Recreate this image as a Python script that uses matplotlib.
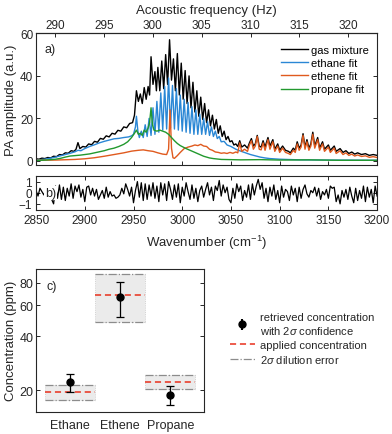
import numpy as np
import matplotlib
matplotlib.use("Agg")
import matplotlib.pyplot as plt
from matplotlib.lines import Line2D
from matplotlib.patches import Rectangle

plt.rcParams['font.family'] = ['Liberation Sans', 'DejaVu Sans']
plt.rcParams['mathtext.fontset'] = 'custom'
plt.rcParams['mathtext.rm'] = 'Liberation Sans'
plt.rcParams['mathtext.it'] = 'Liberation Sans:italic'

# ---- panel a: spectra (wavenumber cm-1, amplitude a.u.) ----
mix_wn = [2850, 2853, 2856, 2859, 2862, 2865, 2868, 2871, 2874, 2877, 2880, 2883, 2886, 2889, 2891, 2893, 2895,
          2898, 2901, 2904, 2907, 2910, 2913, 2916, 2919, 2922, 2925, 2928, 2931, 2934, 2937, 2940, 2943, 2946,
          2949, 2951, 2953, 2955, 2957, 2959, 2961, 2963, 2965, 2966.5, 2968, 2970, 2972, 2973.5, 2975, 2977,
          2979, 2981, 2983, 2985, 2987, 2989, 2991, 2993, 2995, 2997, 2999, 3001, 3003, 3005, 3007, 3009, 3011,
          3013, 3015, 3017, 3019, 3021, 3023, 3025, 3027, 3029, 3031, 3033, 3035, 3037, 3039, 3041, 3043, 3045,
          3047, 3049, 3051, 3053, 3055, 3057, 3059, 3061, 3064, 3067, 3069, 3071, 3073, 3075, 3077, 3079, 3081,
          3083, 3085, 3088, 3090, 3093, 3095, 3098, 3100, 3103, 3106, 3109, 3111, 3114, 3116, 3118, 3120, 3122,
          3124, 3126, 3128, 3130, 3132, 3134, 3136, 3139, 3141, 3144, 3146, 3150, 3152, 3156, 3158, 3162, 3165,
          3168, 3171, 3174, 3177, 3180, 3184, 3188, 3192, 3196, 3200]
mix_amp = [1.0, 0.8, 1.3, 1.1, 1.6, 1.4, 2.2, 2.0, 3.0, 2.8, 3.8, 3.6, 4.8, 4.5, 5.5, 8.6, 5.8,
           6.8, 6.5, 8.0, 7.6, 9.2, 8.8, 10.6, 10.2, 11.8, 11.3, 13.0, 12.6, 14.4, 14.0, 16.0, 15.6, 17.6,
           18.0, 21.5, 33.0, 28.0, 31.5, 27.0, 34.5, 29.0, 35.0, 31.0, 49.0, 36.0, 42.0, 33.0, 44.0, 33.0,
           47.0, 34.0, 50.0, 36.0, 57.0, 38.0, 48.0, 33.0, 50.5, 31.0, 46.0, 29.0, 42.5, 27.0, 40.0, 25.0, 37.0,
           23.0, 33.0, 21.0, 30.0, 19.5, 27.0, 18.0, 24.0, 16.5, 21.5, 15.0, 19.5, 13.0, 16.5, 11.5, 14.0, 10.0,
           11.5, 9.0, 9.5, 7.5, 8.0, 6.8, 9.5, 6.5, 7.5, 6.0, 8.5, 10.5, 7.0, 8.0, 12.0, 7.0, 6.5,
           9.5, 6.5, 11.0, 7.0, 10.0, 5.5, 8.0, 5.0, 7.0, 5.0, 4.5, 3.8, 6.0, 5.0, 9.0, 6.0, 7.5,
           12.8, 6.5, 10.0, 6.0, 8.0, 13.5, 7.0, 11.0, 6.0, 9.0, 5.5, 7.5, 5.0, 7.0, 4.5, 5.8, 4.0,
           4.8, 3.5, 4.2, 3.2, 3.8, 3.0, 3.4, 2.6, 3.0, 2.6]

ethane_wn = [2850, 2855, 2860, 2865, 2870, 2875, 2880, 2885, 2890, 2893, 2896, 2900, 2905, 2910, 2915, 2920,
             2925, 2930, 2935, 2940, 2945, 2948, 2950, 2952, 2953, 2954.5, 2956, 2958, 2960, 2962, 2964, 2966,
             2968, 2970, 2972, 2974, 2976, 2978, 2980, 2982, 2984, 2986, 2988, 2990, 2992, 2994, 2996, 2998,
             3000, 3002, 3004, 3006, 3008, 3010, 3012, 3014, 3016, 3018, 3020, 3022, 3024, 3026, 3028, 3030,
             3032, 3034, 3036, 3038, 3040, 3043, 3046, 3050, 3055, 3060, 3065, 3070, 3075, 3080, 3085, 3090,
             3100, 3120, 3150, 3200]
ethane_amp = [0.4, 0.6, 0.9, 1.3, 1.8, 2.4, 3.0, 3.6, 4.3, 5.0, 4.8, 5.8, 6.8, 7.6, 8.5, 9.2,
              9.8, 10.4, 10.6, 11.0, 11.3, 11.8, 12.5, 16.0, 21.0, 14.0, 11.0, 14.0, 11.0, 17.0, 11.5, 20.0,
              12.0, 25.0, 12.5, 28.0, 13.5, 32.0, 14.5, 35.0, 15.0, 39.0, 15.5, 35.5, 15.0, 34.0, 14.5, 31.0,
              14.0, 29.0, 13.5, 27.5, 13.0, 25.5, 12.5, 24.0, 12.5, 22.0, 12.5, 20.0, 12.5, 18.5, 12.0, 16.0,
              11.5, 14.0, 10.5, 11.5, 9.0, 9.2, 7.5, 6.8, 5.5, 4.6, 3.8, 3.0, 2.4, 1.8, 1.4, 1.1,
              0.8, 0.5, 0.4, 0.3]

ethene_wn = [2850, 2870, 2890, 2900, 2910, 2920, 2930, 2940, 2948, 2955, 2960, 2965, 2970, 2975, 2980, 2984,
             2986, 2987.5, 2989, 2990.5, 2992, 2995, 2998, 3002, 3006, 3010, 3013, 3016, 3019, 3022, 3025,
             3028, 3031, 3034, 3037, 3040, 3043, 3046, 3049, 3052, 3055, 3057, 3059, 3061, 3064, 3067, 3069,
             3071, 3073, 3075, 3077, 3079, 3081, 3083, 3085, 3088, 3090, 3093, 3095, 3098, 3100, 3103, 3106,
             3109, 3111, 3114, 3116, 3118, 3120, 3122, 3124, 3126, 3128, 3130, 3132, 3134, 3136, 3139, 3141,
             3144, 3146, 3150, 3152, 3156, 3158, 3162, 3165, 3168, 3171, 3174, 3177, 3180, 3184, 3188, 3192,
             3196, 3200]
ethene_amp = [0.3, 0.4, 0.7, 1.0, 1.5, 2.2, 3.0, 3.8, 4.6, 5.0, 5.2, 4.8, 4.5, 3.8, 3.2, 3.0,
              5.5, 24.0, 6.0, 1.5, 1.2, 2.5, 4.0, 5.8, 6.5, 7.0, 7.5, 7.2, 7.8, 7.0, 6.8,
              5.5, 5.0, 4.2, 4.0, 3.6, 3.8, 3.5, 4.0, 3.6, 4.2, 3.8, 8.5, 4.5, 5.5, 4.5, 7.5,
              9.5, 5.5, 7.0, 11.5, 5.5, 5.2, 8.5, 5.0, 10.0, 5.5, 9.0, 4.5, 7.0, 4.0, 6.0, 4.0,
              3.5, 3.0, 5.0, 4.0, 8.0, 5.0, 6.5, 12.0, 5.5, 9.0, 5.0, 7.0, 12.5, 6.0, 10.0, 5.0,
              8.0, 4.5, 6.5, 4.0, 6.0, 3.5, 4.8, 3.0, 3.8, 2.6, 3.2, 2.3, 2.8, 2.1, 2.4, 1.7,
              2.0, 1.6]

propane_wn = [2850, 2860, 2870, 2875, 2880, 2885, 2890, 2895, 2900, 2905, 2910, 2915, 2920, 2925, 2930, 2935,
              2940, 2944, 2948, 2951, 2953, 2955, 2957, 2959, 2961, 2963, 2965, 2966.5, 2968, 2969.5, 2971,
              2974, 2977, 2980, 2983, 2986, 2989, 2992, 2995, 2998, 3001, 3004, 3007, 3010, 3013, 3016, 3019,
              3022, 3025, 3028, 3032, 3036, 3040, 3050, 3060, 3080, 3100, 3130, 3160, 3200]
propane_amp = [0.2, 0.4, 0.8, 1.2, 1.8, 2.3, 2.5, 2.7, 3.0, 3.3, 3.8, 4.3, 4.8, 5.5, 6.0, 6.8,
               7.8, 9.0, 11.0, 13.0, 14.5, 12.5, 13.0, 12.0, 14.5, 13.5, 15.5, 18.0, 25.0, 17.0, 14.5,
               14.0, 14.5, 14.0, 13.5, 12.5, 11.0, 9.5, 8.2, 7.2, 6.5, 5.8, 5.2, 4.6, 4.0, 3.4, 2.8,
               2.2, 1.8, 1.4, 1.1, 0.9, 0.7, 0.6, 0.5, 0.6, 0.4, 0.5, 0.3, 0.3]

# ---- panel b: fit residual, every 2 cm-1 from 2850 to 3200 ----
res_wn = np.arange(2850, 3201, 2)
residual = [0.2, -0.3, 0.4, 0.1, -0.2, 0.3, -0.1, 0.2, -0.6, -1.0,
            0.6, -0.5, 0.7, -0.6, 0.5, -0.7, 0.4, -0.3, 0.8, -0.5,
            0.6, 0.1, 0.7, -0.4, 0.3, -0.8, 0.5, 0.6, -0.2, 0.4,
            -0.3, 0.3, -0.6, -0.2, 0.2, -0.5, 0.5, -0.4, 0.1, -0.3,
            -0.2, -0.5, -0.4, -0.2, 0.4, -0.1, 0.8, 0.3, -0.3, 0.5,
            -0.9, 0.2, 1.0, -0.4, 0.9, -0.7, 0.8, -0.6, 0.7, -0.3,
            0.9, -0.5, 0.6, -0.8, 0.9, -0.2, 0.8, -0.7, 1.0, 0.3,
            -0.6, 0.7, -0.4, 0.8, -0.9, 0.5, -0.3, 0.9, 0.1, -0.6,
            0.7, -0.5, 0.4, -0.8, 0.2, 0.6, -0.4, 0.3, 0.9, -0.2,
            0.5, -0.7, 0.6, 0.2, 1.1, -0.3, 0.7, 0.0, 0.5, -0.6,
            -0.9, 0.4, -0.5, 0.8, 0.1, 0.6, -0.7, 0.2, -0.4, 0.7,
            -0.6, 0.8, -0.2, 0.6, 1.2, 0.3, 0.9, -0.5, 0.4, -0.8,
            0.5, -0.3, 0.7, -0.6, 0.2, -0.9, 0.6, -0.4, 0.3, 0.1,
            -0.7, 0.6, -0.2, 0.4, -0.8, 0.5, -0.5, 0.3, 0.7, -0.1,
            -0.4, 0.2, 0.0, 0.5, -0.3, 0.4, -0.6, 0.1, -0.2, 0.3,
            -0.5, 0.6, 0.4, 0.5, -0.8, -0.2, -1.0, 0.2, -0.4, 0.3,
            -0.6, 0.5, -0.3, -0.9, 0.4, -0.7, 0.2, -0.5, 0.6, -0.8,
            0.5, -0.4, 0.3, -0.9, 0.6, -0.3]

# ---- panel c: concentrations (ppm) ----
gases = ['Ethane', 'Ethene', 'Propane']
retrieved = [22.1, 66.3, 18.7]
retrieved_err = [2.6, 15.0, 2.3]
applied = [19.5, 68.2, 22.3]
dilution_low = [17.5, 48.3, 20.3]
dilution_high = [21.4, 89.5, 24.2]

# acoustic frequency <-> wavenumber
def wn2f(w):
    return 290 + (np.asarray(w) - 2869.5) / 10.03

def f2wn(f):
    return 2869.5 + (np.asarray(f) - 290) * 10.03

axc = '#262626'
c_mix, c_ethane, c_ethene, c_propane = 'black', '#2a87d5', '#e05a1e', '#22992e'

fig = plt.figure(figsize=(3.92, 4.35), dpi=100)
ax_a = fig.add_axes([0.092, 0.618, 0.870, 0.303])
ax_b = fig.add_axes([0.092, 0.515, 0.870, 0.078])
ax_c = fig.add_axes([0.092, 0.051, 0.429, 0.329])

def style(ax):
    for s in ax.spines.values():
        s.set_color(axc)
        s.set_linewidth(0.8)
    ax.tick_params(direction='in', length=3, width=0.7, colors=axc, labelsize=8.5,
                   top=True, right=True, pad=2)

# panel a
ax_a.plot(mix_wn, mix_amp, color=c_mix, lw=1.0, label='gas mixture')
ax_a.plot(ethane_wn, ethane_amp, color=c_ethane, lw=1.0, label='ethane fit')
ax_a.plot(ethene_wn, ethene_amp, color=c_ethene, lw=1.0, label='ethene fit')
ax_a.plot(propane_wn, propane_amp, color=c_propane, lw=1.0, label='propane fit')
ax_a.set_xlim(2850, 3200)
ax_a.set_ylim(-2, 60)
ax_a.set_yticks([0, 20, 40, 60])
ax_a.set_xticks(np.arange(2850, 3201, 50))
style(ax_a)
ax_a.tick_params(labelbottom=False, top=False)
ax_a.set_ylabel('PA amplitude (a.u.)', fontsize=9.5, color=axc, labelpad=2)
ax_a.text(0.026, 0.86, 'a)', transform=ax_a.transAxes, fontsize=9, color=axc)
ax_a.legend(loc='upper right', bbox_to_anchor=(1.0, 0.97), frameon=False, fontsize=8,
            handlelength=2.4, handletextpad=0.3, labelspacing=0.28, borderaxespad=0.3)

sec = ax_a.secondary_xaxis('top', functions=(wn2f, f2wn))
sec.set_xticks(np.arange(290, 321, 5))
sec.tick_params(direction='in', length=3, width=0.7, colors=axc, labelsize=8.5, pad=2)
sec.set_xlabel('Acoustic frequency (Hz)', fontsize=9.5, color=axc, labelpad=4)

# panel b
ax_b.plot(res_wn, residual, color='black', lw=0.9)
ax_b.set_xlim(2850, 3200)
ax_b.set_ylim(-1.55, 1.5)
ax_b.set_yticks([-1, 0, 1])
ax_b.set_xticks(np.arange(2850, 3201, 50))
style(ax_b)
ax_b.tick_params(pad=3)
ax_b.set_xlabel('Wavenumber (cm$^{-1}$)', fontsize=9.5, color=axc, labelpad=5)
ax_b.text(0.026, 0.5, 'b)', transform=ax_b.transAxes, fontsize=9, color=axc, va='center',
          bbox=dict(facecolor='white', edgecolor='none', pad=0.5))

# panel c
pos = np.arange(1, len(gases) + 1)
for p, lo, hi, ap in zip(pos, dilution_low, dilution_high, applied):
    ax_c.add_patch(Rectangle((p - 0.5, lo), 1.0, hi - lo, facecolor='#ebebeb',
                             edgecolor='#c8c8c8', lw=0.6, ls=':'))
    ax_c.plot([p - 0.5, p + 0.5], [lo, lo], color='#8c8c8c', lw=0.9, ls='-.')
    ax_c.plot([p - 0.5, p + 0.5], [hi, hi], color='#8c8c8c', lw=0.9, ls='-.')
    ax_c.plot([p - 0.5, p + 0.5], [ap, ap], color='#e8301c', lw=1.1, ls=(0, (4, 2.5)))
ax_c.errorbar(pos, retrieved, yerr=retrieved_err, fmt='o', color='black', ms=5,
              capsize=3, elinewidth=0.9, capthick=0.9)
ax_c.set_yscale('log')
ax_c.set_ylim(15.1, 96)
ax_c.set_xlim(0.32, 3.68)
ax_c.set_yticks([20, 40, 60, 80])
ax_c.set_yticklabels(['20', '40', '60', '80'])
ax_c.minorticks_off()
ax_c.set_xticks(pos)
ax_c.set_xticklabels(gases)
style(ax_c)
ax_c.tick_params(axis='x', length=0, pad=5, labelsize=9)
ax_c.tick_params(axis='y', labelsize=9)
ax_c.set_ylabel('Concentration (ppm)', fontsize=9.5, color=axc, labelpad=2)
ax_c.text(0.06, 0.86, 'c)', transform=ax_c.transAxes, fontsize=9, color=axc)

h_ret = ax_c.errorbar([], [], yerr=[], fmt='o', color='black', ms=5, capsize=2.5)
h_app = Line2D([], [], color='#e8301c', lw=1.1, ls=(0, (4, 2.5)))
h_dil = Line2D([], [], color='#8c8c8c', lw=0.9, ls='-.')
fig.legend([h_ret, h_app, h_dil],
           ['retrieved concentration\nwith 2$\\sigma$ confidence', 'applied concentration',
            '2$\\sigma$ dilution error'],
           loc='upper left', bbox_to_anchor=(0.56, 0.303), frameon=False, fontsize=8,
           handlelength=2.3, handletextpad=0.4, labelspacing=0.3, labelcolor=axc)

fig.savefig('out.png', dpi=100)
